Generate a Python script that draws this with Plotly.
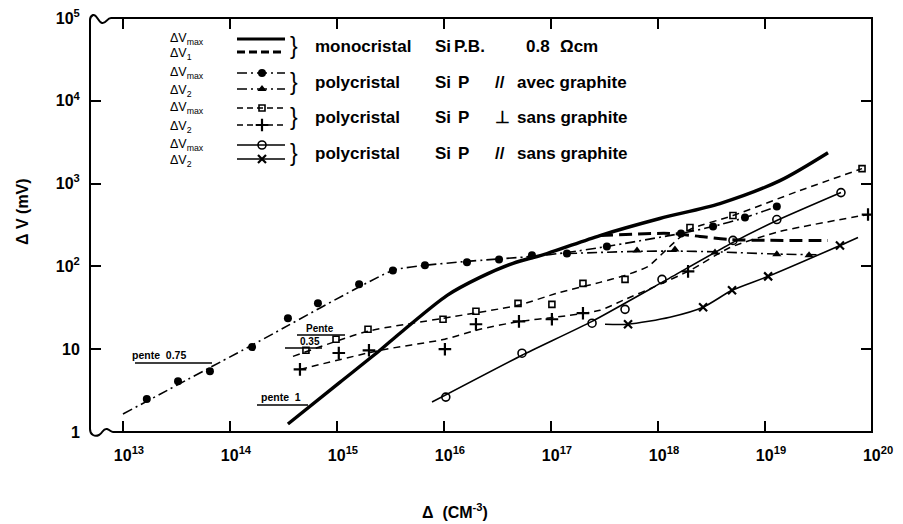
import plotly.graph_objects as go

# ---------------- data (x: cm^-3, y: mV) ----------------
mono_max_x = [3.48e14, 1.07e15, 2.52e15, 3.88e15, 1.07e16, 2.17e16, 4.42e16, 9.18e16, 2.87e17, 1.04e18, 3.79e18, 1.38e19, 3.88e19]
mono_max_y = [1.25, 4.0, 9.7, 15.6, 44.7, 73.7, 109, 143, 236, 379, 574, 1087, 2362]

mono_dv1_x = [2.87e17, 1.29e18, 2.47e18, 4.71e18, 3.88e19]
mono_dv1_y = [236, 250, 230, 211, 206]

gr_max_x = [1.67e13, 3.27e13, 6.50e13, 1.61e14, 3.48e14, 6.64e14, 1.61e15, 3.33e15, 6.64e15, 1.64e16,
            3.27e16, 6.64e16, 1.41e17, 3.33e17, 1.64e18, 3.27e18, 6.50e18, 1.29e19]
gr_max_y = [2.5, 4.1, 5.4, 10.6, 23.6, 35.8, 60.7, 89.5, 103, 112, 121, 136, 143, 174, 250, 303, 389, 528]
gr_max_line_x = [1.0e13, 1.61e14, 3.33e15, 6.64e15, 1.64e16, 6.64e16, 1.41e17, 3.33e17, 1.64e18, 3.27e18, 6.50e18, 1.29e19]
gr_max_line_y = [1.65, 11.2, 89.5, 103, 115, 132, 147, 174, 250, 303, 389, 528]

gr_dv2_x = [6.37e17, 1.44e18, 3.41e18, 1.29e19, 2.58e19]
gr_dv2_y = [156, 160, 147, 140, 136]
gr_dv2_line_x = [1.41e17, 6.37e17, 1.44e18, 3.41e18, 1.29e19, 3.27e19]
gr_dv2_line_y = [143, 152, 153, 150, 141, 138]

perp_max_x = [5.13e14, 9.8e14, 1.95e15, 9.8e15, 1.99e16, 4.92e16, 1.02e17, 1.99e17, 4.92e17, 1.99e18, 5.02e18, 8.07e19]
perp_max_y = [9.7, 13.2, 17.4, 23.0, 28.7, 35.8, 34.8, 62.4, 69.7, 295, 411, 1517]
perp_max_line_x = [3.88e14, 1.95e15, 9.8e15, 4.92e16, 1.21e17, 2.87e17, 4.92e17, 8.07e17, 1.29e18, 1.99e18, 5.02e18, 2.12e19, 8.07e19]
perp_max_line_y = [8.2, 16.5, 23.6, 33.9, 48.6, 64.1, 77.9, 100, 174, 279, 411, 824, 1517]

perp_dv2_x = [4.51e14, 1.04e15, 1.99e15, 1.02e16, 1.99e16, 5.02e16, 1.02e17, 1.99e17, 1.91e18, 9.18e19]
perp_dv2_y = [5.7, 9.0, 9.7, 10.0, 20.0, 21.7, 23.0, 27.2, 87.1, 423]
perp_dv2_line_x = [4.51e14, 2.52e15, 1.02e16, 2.17e16, 5.13e16, 1.09e17, 2.87e17, 4.71e17, 1.04e18, 1.99e18, 4.71e18, 1.38e19, 9.18e19]
perp_dv2_line_y = [5.7, 9.7, 13.2, 17.4, 21.7, 24.3, 29.5, 38.9, 60.7, 89.5, 169, 264, 423]

sg_max_x = [1.04e16, 5.36e16, 2.42e17, 4.92e17, 1.09e18, 5.02e18, 1.29e19, 5.13e19]
sg_max_y = [2.64, 8.95, 20.6, 30.3, 69.7, 206, 368, 779]
sg_max_line_x = [7.73e15, 5.36e16, 2.42e17, 1.09e18, 5.02e18, 1.29e19, 5.13e19]
sg_max_line_y = [2.30, 8.47, 21.7, 64.1, 195, 358, 779]

sg_dv2_x = [5.25e17, 2.64e18, 4.92e18, 1.07e19, 5.02e19]
sg_dv2_y = [20.0, 32.1, 51.4, 75.8, 179]
sg_dv2_line_x = [3.20e17, 5.25e17, 1.29e18, 2.64e18, 4.92e18, 1.07e19, 5.02e19, 7.4e19]
sg_dv2_line_y = [20.0, 20.0, 24.3, 32.1, 51.4, 75.8, 179, 224]

x_tickvals = [1e13, 1e14, 1e15, 1e16, 1e17, 1e18, 1e19, 1e20]
x_ticktext = ["10<sup>13</sup>", "10<sup>14</sup>", "10<sup>15</sup>", "10<sup>16</sup>",
              "10<sup>17</sup>", "10<sup>18</sup>", "10<sup>19</sup>", "10<sup>20</sup>"]
y_tickvals = [1, 10, 100, 1000, 1e4, 1e5]
y_ticktext = ["1", "10", "10<sup>2</sup>", "10<sup>3</sup>", "10<sup>4</sup>", "10<sup>5</sup>"]

legend_rows = [
    ("ΔV<sub>max</sub>", "ΔV<sub>1</sub>", ["monocristal", "Si", "P.B.", "0.8", "Ωcm"]),
    ("ΔV<sub>max</sub>", "ΔV<sub>2</sub>", ["polycristal", "Si", "P", "//", "avec graphite"]),
    ("ΔV<sub>max</sub>", "ΔV<sub>2</sub>", ["polycristal", "Si", "P", "⊥", "sans graphite"]),
    ("ΔV<sub>max</sub>", "ΔV<sub>2</sub>", ["polycristal", "Si", "P", "//", "sans graphite"]),
]

# ---------------- styling ----------------
FONT = "Liberation Sans"
K = "black"
W, H = 903, 524
L, R, T, B = 90, 872, 18, 432

def px(x):  # pixel -> paper x
    return (x - L) / (R - L)

def py(y):  # pixel -> paper y
    return (B - y) / (B - T)

fig = go.Figure()

def curve(x, y, width=1.6, dash="solid", smooth=0.7):
    fig.add_trace(go.Scatter(x=x, y=y, mode="lines", line=dict(color=K, width=width, dash=dash, shape="spline", smoothing=smooth),
                             hoverinfo="skip", showlegend=False))

def marks(x, y, symbol, size=8, lw=1.6):
    fig.add_trace(go.Scatter(x=x, y=y, mode="markers",
                             marker=dict(symbol=symbol, size=size, color=K, line=dict(color=K, width=lw)),
                             hoverinfo="skip", showlegend=False))

DASH = "7px,5px"
DASHDOT = "10px,4px,2px,4px"
LONG = "13px,6px"

curve(mono_max_x, mono_max_y, width=3.4, smooth=0.8)
curve(mono_dv1_x, mono_dv1_y, width=3.0, dash=LONG, smooth=0.8)
curve(gr_max_line_x, gr_max_line_y, width=1.6, dash=DASHDOT, smooth=0.5)
marks(gr_max_x, gr_max_y, "circle", 8, 0)
curve(gr_dv2_line_x, gr_dv2_line_y, width=1.6, dash=DASHDOT, smooth=0.6)
marks(gr_dv2_x, gr_dv2_y, "triangle-up", 8, 0)
curve(perp_max_line_x, perp_max_line_y, width=1.5, dash=DASH, smooth=0.6)
marks(perp_max_x, perp_max_y, "square-open", 6, 1.6)
curve(perp_dv2_line_x, perp_dv2_line_y, width=1.5, dash=DASH, smooth=0.6)
marks(perp_dv2_x, perp_dv2_y, "cross-thin-open", 9, 2.2)
curve(sg_max_line_x, sg_max_line_y, width=1.6, smooth=0.5)
marks(sg_max_x, sg_max_y, "circle-open", 8, 1.6)
curve(sg_dv2_line_x, sg_dv2_line_y, width=1.6, smooth=0.7)
marks(sg_dv2_x, sg_dv2_y, "x-thin-open", 8, 2.2)

# ---------- legend samples on a pixel-coordinate overlay axis ----------
lx0, lx1, lxm = 237, 285, 262
leg_y = [(39, 52), (73, 89), (108, 125), (145, 159)]
leg_style = [
    (dict(width=3.0, dash="solid"), None, dict(width=3.0, dash="8px,4px"), None),
    (dict(width=1.6, dash=DASHDOT), ("circle", 8, 0), dict(width=1.6, dash=DASHDOT), ("triangle-up", 8, 0)),
    (dict(width=1.5, dash="6px,4px"), ("square-open", 6, 1.6), dict(width=1.5, dash="6px,4px"), ("cross-thin-open", 9, 2.2)),
    (dict(width=1.6, dash="solid"), ("circle-open", 8, 1.6), dict(width=1.6, dash="solid"), ("x-thin-open", 8, 2.2)),
]
for (ya, yb), (la, ma, lb, mb) in zip(leg_y, leg_style):
    for yy, ln, mk in ((ya, la, ma), (yb, lb, mb)):
        fig.add_trace(go.Scatter(x=[lx0, lx1], y=[yy, yy], mode="lines", line=dict(color=K, **ln),
                                 xaxis="x2", yaxis="y2", hoverinfo="skip", showlegend=False))
        if mk:
            fig.add_trace(go.Scatter(x=[lxm], y=[yy], mode="markers",
                                     marker=dict(symbol=mk[0], size=mk[1], color=K, line=dict(color=K, width=mk[2])),
                                     xaxis="x2", yaxis="y2", hoverinfo="skip", showlegend=False))

ann = []
def text(x, y, s, size=16.5, xanchor="left", bold=True, **kw):
    ann.append(dict(x=px(x), y=py(y), xref="paper", yref="paper", text=s, showarrow=False, xanchor=xanchor,
                    yanchor="middle", font=dict(family=FONT, size=size, color=K, weight="bold" if bold else "normal"), **kw))

text_x = [313, 433, 456, 493, 515]
text_x_row1 = [313, 433, 452, 524, 558]
for i, ((ya, yb), (lab_a, lab_b, words)) in enumerate(zip(leg_y, legend_rows)):
    text(168, ya, lab_a, size=12.5, bold=False)
    text(168, yb + 2, lab_b, size=12.5, bold=False)
    text(288, (ya + yb) / 2 + 1, "}", size=23, bold=False)
    yc = (ya + yb) / 2 + 1
    xs = text_x_row1 if i == 0 else text_x
    for xx, w in zip(xs, words):
        text(xx, yc, w, size=17)

# slope annotations
text(130, 355, "pente  0.75", size=10.5)
text(259, 397, "pente  1", size=10.5)
text(304, 328, "Pente", size=10)
text(298, 341, "0.35", size=10)

# axis titles
text(22, 212, "Δ V (mV)", size=16, xanchor="center", textangle=-90)
text(455, 511, "Δ  (CM<sup>-3</sup>)", size=16, xanchor="center")

shapes = []
def seg(x0, y0, x1, y1, w=1.5):
    shapes.append(dict(type="line", xref="paper", yref="paper", x0=px(x0), y0=py(y0), x1=px(x1), y1=py(y1),
                       line=dict(color=K, width=w)))

seg(135, 363, 212, 363)
seg(257, 405, 308, 405)
seg(297, 335, 345, 335)
seg(285, 348, 322, 348)

# masks at the left corners (axis-break), then the frame with waves
def P(x, y):
    return f"{px(x):.5f},{py(y):.5f}"

for (ya, yb) in ((T - 4, T + 4), (B - 4, B + 5)):
    shapes.append(dict(type="rect", xref="paper", yref="paper", x0=px(86), x1=px(113), y0=py(yb), y1=py(ya),
                       fillcolor="white", line=dict(width=0), layer="above"))

frame = (f"M {P(113, B)} L {P(R, B)} L {P(R, T)} L {P(111, T)} "
         f"C {P(107, T)} {P(106, T+6)} {P(102, T+5)} C {P(98, T+4)} {P(97, T-4)} {P(93, T-3)} "
         f"C {P(91, T-2)} {P(90, T)} {P(90, T+2)} "
         f"L {P(90, B-3)} C {P(90, B+3)} {P(95, B+5)} {P(99, B+3)} C {P(103, B+1)} {P(103, B-4)} {P(107, B-3)} "
         f"C {P(110, B-2)} {P(111, B)} {P(113, B)}")
shapes.append(dict(type="path", xref="paper", yref="paper", path=frame, line=dict(color=K, width=2), layer="above"))

tickfont = dict(family=FONT, size=16, color=K, weight="bold")
axis_common = dict(ticks="inside", ticklen=11, tickwidth=1.6, tickcolor=K, mirror="ticks", showline=True,
                   linecolor=K, linewidth=1, showgrid=False, zeroline=False, tickfont=tickfont, automargin=False)
fig.update_layout(
    width=W, height=H,
    margin=dict(l=L, r=W - R, t=T, b=H - B, pad=0, autoexpand=False),
    paper_bgcolor="white", plot_bgcolor="white",
    font=dict(family=FONT, color=K, size=15),
    showlegend=False,
    xaxis=dict(type="log", range=[12.692, 20.0], tickmode="array", tickvals=x_tickvals, ticktext=x_ticktext,
               ticklabelshift=6, ticklabelstandoff=9, **axis_common),
    yaxis=dict(type="log", range=[0, 5], tickmode="array", tickvals=y_tickvals, ticktext=y_ticktext,
               ticklabelstandoff=6, **axis_common),
    xaxis2=dict(overlaying="x", anchor="y2", range=[L, R], visible=False, fixedrange=True, automargin=False),
    yaxis2=dict(overlaying="y", anchor="x2", range=[B, T], visible=False, fixedrange=True, automargin=False),
    annotations=ann,
    shapes=shapes,
)

fig.write_html("out.html")
